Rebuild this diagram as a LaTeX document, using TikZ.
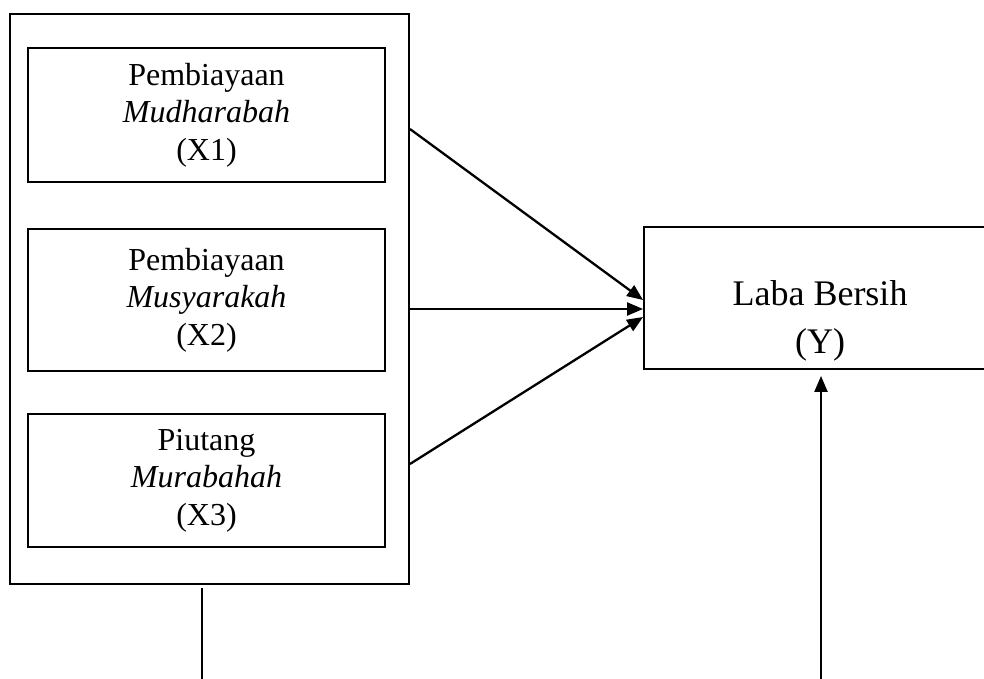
\documentclass[tikz,border=0pt]{standalone}
\usepackage{fontspec}
\setmainfont{Liberation Serif}
\usetikzlibrary{arrows.meta,calc}
\begin{document}
\begin{tikzpicture}[x=1pt,y=-1pt,
  frame/.style={draw,line width=1.9pt,inner sep=0pt},
  varbox/.style={frame,minimum width=357pt,align=center,
    font=\fontsize{32}{37.5}\selectfont},
  link/.style={line width=2.3pt,-{Triangle[length=16pt,width=13pt]}},
  plain/.style={line width=1.9pt}]
\useasboundingbox (0,0) rectangle (984,679);
\clip (0,0) rectangle (984,679);
% outer frame holding the independent variables
\node[frame,minimum width=399pt,minimum height=570pt] (outer) at (209.5,299) {};
\node[varbox,minimum height=134pt] (x1) at (206.5,115)
  {Pembiayaan\\\textit{Mudharabah}\\(X1)};
\node[varbox,minimum height=142pt] (x2) at (206.5,300)
  {Pembiayaan\\\textit{Musyarakah}\\(X2)};
\node[varbox,minimum height=133pt] (x3) at (206.5,480.5)
  {Piutang\\\textit{Murabahah}\\(X3)};
% dependent variable
\node[frame,minimum width=352pt,minimum height=142pt] (y) at (820,298) {};
\node[align=center,font=\fontsize{36}{48}\selectfont] (ytxt) at (820,321)
  {Laba Bersih\\(Y)};
% arrows into the dependent variable
\coordinate (s1) at (outer.east |- 0,129);
\coordinate (s2) at (outer.east |- 0,309);
\coordinate (s3) at (outer.east |- 0,464);
\draw[link] (s1) -- ($(y.west)+(0,2)$);
\draw[link] (s2) -- ($(y.west)+(0,11)$);
\draw[link] (s3) -- ($(y.west)+(0,19)$);
% lines running off the bottom edge
\coordinate (b1) at (202,588);
\coordinate (b2) at (202,690);
\draw[plain] (b1) -- (b2);
\coordinate (b3) at (821,690);
\draw[link,shorten >=6pt] (b3) -- (y.south -| b3);
\end{tikzpicture}
\end{document}
